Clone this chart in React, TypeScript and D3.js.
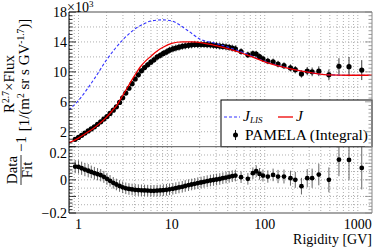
import React from "react";
import * as d3 from "d3";

// rigidity of PAMELA (integral) points [GV]
const rigidity = [
  0.92, 1.0, 1.08, 1.17, 1.27, 1.37, 1.48, 1.6, 1.73, 1.87, 2.02, 2.18, 2.36, 2.55, 2.76, 2.98,
  3.22, 3.48, 3.76, 4.06, 4.39, 4.74, 5.12, 5.53, 5.98, 6.46, 6.98, 7.54, 8.15, 8.8, 9.5, 10.3,
  11.1, 12.0, 13.0, 14.0, 15.2, 16.4, 17.7, 19.1, 20.7, 22.3, 24.1, 26.1, 28.2, 30.4, 32.9, 35.5,
  38.4, 41.5, 44.8, 48.4, 55.7, 65.9, 74.6, 81, 87.9, 95.7, 108, 123, 139, 161, 189, 213, 248,
  286, 323, 381, 489, 627, 804, 1102,
];
// R^2.7 x flux, in units of 10^3
const flux = [
  0.99, 1.24, 1.52, 1.82, 2.11, 2.38, 2.65, 2.99, 3.33, 3.69, 4.02, 4.44, 4.88, 5.33, 5.92, 6.53,
  7.16, 7.81, 8.42, 9.05, 9.61, 10.15, 10.57, 10.95, 11.3, 11.61, 11.97, 12.21, 12.47, 12.67, 12.9, 13.07,
  13.19, 13.3, 13.41, 13.48, 13.55, 13.61, 13.66, 13.65, 13.66, 13.66, 13.64, 13.61, 13.56, 13.51, 13.44, 13.4,
  13.34, 13.27, 13.18, 13.09, 12.72, 12.28, 12.43, 12.39, 12.03, 11.74, 11.45, 11.35, 11.04, 10.83, 10.53, 10.29, 9.72,
  10.1, 10.0, 10.09, 9.6, 10.75, 10.7, 10.24,
];
// Data/Fit - 1
const ratio = [
  0.08, 0.078, 0.07, 0.062, 0.055, 0.048, 0.04, 0.034, 0.028, 0.018, 0.006, -0.006, -0.018, -0.028, -0.037, -0.045,
  -0.051, -0.055, -0.058, -0.06, -0.062, -0.063, -0.064, -0.065, -0.066, -0.066, -0.065, -0.064, -0.062, -0.06, -0.057, -0.054,
  -0.05, -0.046, -0.042, -0.037, -0.032, -0.028, -0.024, -0.02, -0.016, -0.012, -0.008, -0.004, -0.001, 0.002, 0.005, 0.01,
  0.014, 0.018, 0.022, 0.026, 0.016, 0.006, 0.04, 0.052, 0.036, 0.026, 0.02, 0.03, 0.02, 0.02, 0.01, 0.0, -0.038,
  0.01, 0.01, 0.032, 0.0, 0.122, 0.12, 0.072,
];
// relative uncertainty
const relErr = [
  0.04, 0.04, 0.04, 0.04, 0.04, 0.038, 0.038, 0.037, 0.037, 0.036, 0.036, 0.035, 0.035, 0.035, 0.035, 0.035,
  0.035, 0.035, 0.035, 0.035, 0.035, 0.035, 0.035, 0.035, 0.035, 0.035, 0.035, 0.035, 0.035, 0.035, 0.035, 0.035,
  0.035, 0.035, 0.035, 0.035, 0.035, 0.035, 0.035, 0.035, 0.035, 0.035, 0.035, 0.035, 0.035, 0.035, 0.035, 0.035,
  0.035, 0.035, 0.035, 0.035, 0.035, 0.035, 0.035, 0.035, 0.035, 0.036, 0.037, 0.038, 0.04, 0.042, 0.045, 0.048, 0.05,
  0.055, 0.058, 0.065, 0.075, 0.1, 0.12, 0.13,
];

// modulated fit J
const fitR = [0.79, 0.9, 1.0, 1.2, 1.45, 1.7, 2.0, 2.3, 2.6, 3.0, 3.5, 4.0, 4.6, 5.3, 6.0, 7.0, 8.0, 10, 13, 17, 22, 30, 40, 63, 100, 150, 250, 480, 800, 1420];
const fitJ = [0.52, 0.85, 1.15, 1.8, 2.46, 3.15, 3.95, 4.8, 5.6, 6.9, 8.3, 9.5, 10.65, 11.5, 12.1, 12.8, 13.25, 13.8, 14.0, 14.0, 13.85, 13.5, 13.1, 12.3, 11.35, 10.7, 10.1, 9.6, 9.55, 9.55];
// local interstellar spectrum J_LIS
const lisR = [0.79, 1.0, 1.5, 2.0, 3.0, 4.0, 5.0, 6.0, 8.0, 10, 15, 20, 30, 50, 70, 100, 150, 250, 480, 800, 1420];
const lisJ = [4.9, 6.2, 9.2, 11.6, 14.3, 15.7, 16.4, 16.8, 16.95, 16.8, 15.5, 14.4, 13.8, 12.9, 12.2, 11.4, 10.75, 10.1, 9.62, 9.55, 9.55];

const upperLabels = [2, 6, 10, 14, 18];
const ratioLabels = [0.2, 0, -0.2];
const xLabels = [1, 10, 100, 1000];

const FONT = "'Liberation Serif', 'Times New Roman', serif";

const App = () => {
  const x = d3.scaleLog().domain([0.79, 1420]).range([69, 372]);
  const yTop = d3.scaleLinear().domain([0, 18]).range([146.7, 12]);
  const yBot = d3.scaleLinear().domain([-0.2, 0.2]).range([213, 146.7]);
  const [x0, x1] = x.range();

  const pts = rigidity.map((r, i) => ({ r, f: flux[i], q: ratio[i], e: relErr[i] }));

  const gridX: number[] = [];
  [0.1, 1, 10, 100, 1000].forEach((d) => {
    for (let k = 1; k <= 9; k++) {
      const v = d * k;
      if (v >= 0.79 && v <= 1420) gridX.push(v);
    }
  });
  const gridTop = d3.range(2, 18, 2);
  const gridBot = d3.range(-0.15, 0.2, 0.05);
  const minorTop = d3.range(0, 18.01, 0.5);
  const minorBot = d3.range(-0.2, 0.201, 0.02);

  const line = (rs: number[], vs: number[]) =>
    d3
      .line<number>()
      .x((_, i) => x(rs[i]))
      .y((v) => yTop(v))
      .curve(d3.curveMonotoneX)(vs) || "";

  const dotted = { stroke: "#9a9a9a", strokeWidth: 0.8, strokeDasharray: "1 2" };

  return (
    <svg width={374} height={249} style={{ position: "absolute", left: 0, top: 0, background: "#fff" }} fontFamily={FONT}>
      <defs>
        <clipPath id="clipTop">
          <rect x={x0} y={12} width={x1 - x0} height={146.7 - 12} />
        </clipPath>
        <clipPath id="clipBot">
          <rect x={x0} y={146.7} width={x1 - x0} height={213 - 146.7} />
        </clipPath>
      </defs>

      {/* grids */}
      {gridX.map((v) => (
        <line key={"gx" + v} x1={x(v)} x2={x(v)} y1={12} y2={213} {...dotted} />
      ))}
      {gridTop.map((v) => (
        <line key={"gt" + v} x1={x0} x2={x1} y1={yTop(v)} y2={yTop(v)} {...dotted} />
      ))}
      {gridBot.map((v) => (
        <line key={"gb" + v} x1={x0} x2={x1} y1={yBot(v)} y2={yBot(v)} {...dotted} />
      ))}

      {/* upper panel: data */}
      <g clipPath="url(#clipTop)">
        {pts.map((p, i) => (
          <line key={"eu" + i} x1={x(p.r)} x2={x(p.r)} y1={yTop(p.f * (1 + p.e))} y2={yTop(p.f * (1 - p.e))} stroke="#222" strokeWidth={0.9} />
        ))}
        {pts.map((p, i) => (
          <circle key={"pu" + i} cx={x(p.r)} cy={yTop(p.f)} r={2.6} fill="#000" />
        ))}
        <path d={line(lisR, lisJ)} fill="none" stroke="#3333ff" strokeWidth={1.1} strokeDasharray="3 2" />
        <path d={line(fitR, fitJ)} fill="none" stroke="#ee0000" strokeWidth={1.3} />
      </g>

      {/* lower panel: ratio */}
      <g clipPath="url(#clipBot)">
        {pts.map((p, i) => (
          <line key={"el" + i} x1={x(p.r)} x2={x(p.r)} y1={yBot(p.q + p.e)} y2={yBot(p.q - p.e)} stroke="#555" strokeWidth={0.9} />
        ))}
        {pts.map((p, i) => (
          <circle key={"pl" + i} cx={x(p.r)} cy={yBot(p.q)} r={2.4} fill="#000" />
        ))}
      </g>

      {/* legend */}
      <rect x={221} y={100} width={151} height={46.7} fill="#fff" stroke="#000" strokeWidth={1} />
      <line x1={224} x2={240} y1={117} y2={117} stroke="#3333ff" strokeWidth={1.1} strokeDasharray="3 2" />
      <text x={243} y={121} fontSize={15.5} fontStyle="italic">
        J<tspan fontSize={9} dy={2}>LIS</tspan>
      </text>
      <line x1={278} x2={293} y1={117} y2={117} stroke="#ee0000" strokeWidth={1.3} />
      <text x={296} y={121} fontSize={15.5} fontStyle="italic">J</text>
      <line x1={235.5} x2={235.5} y1={130} y2={140} stroke="#000" strokeWidth={0.9} />
      <circle cx={235.5} cy={135} r={2.5} fill="#000" />
      <text x={245} y={140} fontSize={15.4}>PAMELA (Integral)</text>

      {/* frame */}
      <line x1={x0} x2={x1} y1={12} y2={12} stroke="#888" strokeWidth={1.5} />
      <line x1={x0} x2={x1} y1={213} y2={213} stroke="#888" strokeWidth={1.5} />
      <line x1={x0} x2={x1} y1={146.7} y2={146.7} stroke="#555" strokeWidth={1} />
      <line x1={x1} x2={x1} y1={12} y2={213} stroke="#888" strokeWidth={1} />
      <line x1={x0} x2={x0} y1={12} y2={213} stroke="#000" strokeWidth={1} />

      {/* y ticks */}
      {minorTop.map((v) => {
        const major = upperLabels.includes(v);
        const len = major ? 7 : 3.5;
        return (
          <g key={"tt" + v}>
            <line x1={x0} x2={x0 + len} y1={yTop(v)} y2={yTop(v)} stroke="#000" strokeWidth={0.8} />
            <line x1={x1} x2={x1 - len} y1={yTop(v)} y2={yTop(v)} stroke="#888" strokeWidth={0.8} />
          </g>
        );
      })}
      {minorBot.map((v) => {
        const major = Math.abs(Math.round(v * 10) - v * 10) < 1e-6;
        const len = major ? 7 : 3.5;
        return (
          <g key={"tb" + v.toFixed(2)}>
            <line x1={x0} x2={x0 + len} y1={yBot(v)} y2={yBot(v)} stroke="#000" strokeWidth={0.8} />
            <line x1={x1} x2={x1 - len} y1={yBot(v)} y2={yBot(v)} stroke="#888" strokeWidth={0.8} />
          </g>
        );
      })}

      {/* tick labels */}
      {upperLabels.map((v) => (
        <text key={"lu" + v} x={67} y={yTop(v) + 5} fontSize={14} textAnchor="end">{v}</text>
      ))}
      <text x={67} y={12} fontSize={14}>×10<tspan fontSize={9} dy={-5}>3</tspan></text>
      {ratioLabels.map((v) => (
        <text key={"lb" + v} x={67} y={yBot(v) + 5 + (v === 0.2 ? 6 : 0)} fontSize={14} textAnchor="end">
          {v < 0 ? "−" + Math.abs(v) : String(v)}
        </text>
      ))}
      {xLabels.map((v) => (
        <text key={"lx" + v} x={x(v)} y={229} fontSize={14} textAnchor="middle">{v}</text>
      ))}
      <text x={372} y={244} fontSize={14} textAnchor="end">Rigidity [GV]</text>

      {/* axis titles */}
      <text transform="translate(14,84) rotate(-90)" fontSize={15} textAnchor="middle">
        R<tspan fontSize={9.5} dy={-5}>2.7</tspan><tspan dy={5}>×Flux</tspan>
      </text>
      <text transform="translate(29,75) rotate(-90)" fontSize={15} textAnchor="middle">
        [1/(m<tspan fontSize={9.5} dy={-5}>2</tspan><tspan dy={5}> sr s GV</tspan><tspan fontSize={9.5} dy={-5}>-1.7</tspan><tspan dy={5}>)]</tspan>
      </text>
      <g transform="translate(21,170) rotate(-90)">
        <text x={0} y={-4} fontSize={15} textAnchor="middle">Data</text>
        <line x1={-15} x2={15} y1={0} y2={0} stroke="#000" strokeWidth={0.8} />
        <text x={0} y={11} fontSize={15} textAnchor="middle">Fit</text>
        <text x={18} y={5} fontSize={15}>−1</text>
      </g>
    </svg>
  );
};

export default App;
